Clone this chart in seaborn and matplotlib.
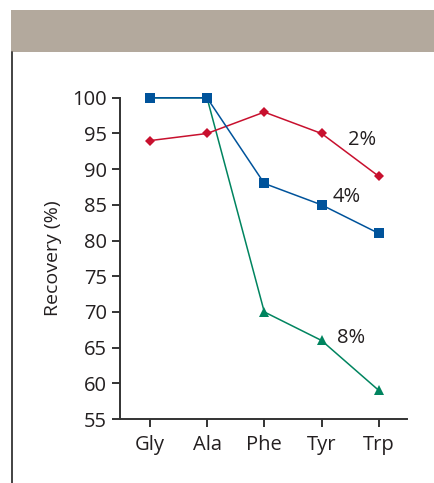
import pandas as pd
import seaborn as sns
import matplotlib.pyplot as plt
from matplotlib.patches import Rectangle
from matplotlib.lines import Line2D

amino_acids = ["Gly", "Ala", "Phe", "Tyr", "Trp"]
rec_2pct = [94, 95, 98, 95, 89]
rec_4pct = [100, 100, 88, 85, 81]
rec_8pct = [100, 100, 70, 66, 59]
series_names = ["8%", "2%", "4%"]

df = pd.DataFrame({
    "amino": amino_acids * 3,
    "pos": list(range(len(amino_acids))) * 3,
    "recovery": rec_8pct + rec_2pct + rec_4pct,
    "series": [s for s in series_names for _ in amino_acids],
})

sns.set_style("ticks")
plt.rcParams["font.family"] = ["Open Sans", "DejaVu Sans"]
text_col = "#231f20"

fig = plt.figure(figsize=(4.34, 4.83), dpi=100)
ax = fig.add_axes([0.2765, 0.1325, 0.661, 0.665])

palette = {"2%": "#c8102e", "4%": "#00539b", "8%": "#00845f"}
markers = {"2%": "D", "4%": "s", "8%": "^"}
sizes = {"2%": 5, "4%": 6.5, "8%": 6.5}
for s in series_names:
    sub = df[df["series"] == s]
    sns.lineplot(data=sub, x="pos", y="recovery", color=palette[s],
                 marker=markers[s], markersize=sizes[s], markeredgewidth=0,
                 linewidth=1.1, ax=ax, clip_on=False, legend=False)

ax.set_xlim(-0.52, 4.49)
ax.set_ylim(55, 100)
ax.set_yticks(range(55, 101, 5))
ax.set_xticks(range(len(amino_acids)))
ax.set_xticklabels(amino_acids)
ax.set_xlabel("")
ax.set_ylabel("Recovery (%)", fontsize=14, color=text_col, labelpad=7)
ax.tick_params(axis="both", labelsize=14.5, colors="#333333", labelcolor=text_col,
               width=1.4, length=5.5)
ax.tick_params(axis="x", pad=6)
ax.tick_params(axis="y", pad=4)
for side in ["top", "right"]:
    ax.spines[side].set_visible(False)
for side in ["left", "bottom"]:
    ax.spines[side].set_color("#333333")
    ax.spines[side].set_linewidth(1.4)

ax.text(3.70, 94.1, "2%", fontsize=14.5, color=text_col, ha="center", va="center")
ax.text(3.44, 86.1, "4%", fontsize=14.5, color=text_col, ha="center", va="center")
ax.text(3.51, 66.3, "8%", fontsize=14.5, color=text_col, ha="center", va="center")

# header banner and left rule
fig.patches.append(Rectangle((11 / 434, 1 - 52 / 483), 1 - 11 / 434, 42 / 483,
                             transform=fig.transFigure, facecolor="#b3a99d",
                             edgecolor="none"))
fig.lines.append(Line2D([11.5 / 434, 11.5 / 434], [0, 1 - 52 / 483],
                        transform=fig.transFigure, color="#222222", linewidth=1.2))

fig.savefig("out.png", dpi=100)
